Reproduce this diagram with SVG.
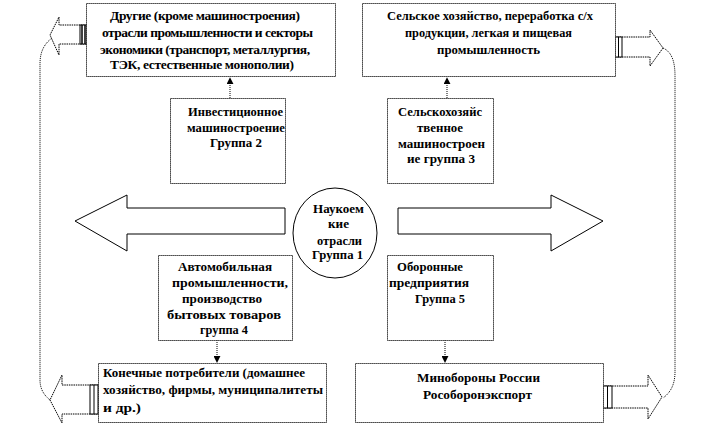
<svg xmlns="http://www.w3.org/2000/svg" width="714" height="426" viewBox="0 0 714 426">
<defs>
<style>
.box{fill:#fff;stroke:#000;stroke-width:1;stroke-dasharray:1.2 0.8}
.big{fill:#fff;stroke:#000;stroke-width:1}
.sm{fill:#fff;stroke:#000;stroke-width:1;stroke-dasharray:1.5 0.8}
.stripe{fill:#fff;stroke:#000;stroke-width:1}
.dot{fill:none;stroke:#000;stroke-width:1;stroke-dasharray:1 1}
text{font-family:"Liberation Serif","Times New Roman",serif;font-weight:bold;font-size:13.5px;fill:#000}
.c{text-anchor:middle}
</style>
<marker id="ah" viewBox="0 0 8 8" refX="7" refY="4" markerWidth="7" markerHeight="7" orient="auto" markerUnits="userSpaceOnUse">
<path d="M0,0 L8,4 L0,8 Z" fill="#000"/>
</marker>
</defs>

<g id="connectors">
<line class="dot" x1="230" y1="98" x2="230" y2="78" marker-end="url(#ah)"/>
<line class="dot" x1="447" y1="98" x2="447" y2="78" marker-end="url(#ah)"/>
<line class="dot" x1="217" y1="340" x2="217" y2="362" marker-end="url(#ah)"/>
<line class="dot" x1="445" y1="340" x2="445" y2="362" marker-end="url(#ah)"/>
<path class="dot" d="M52,38 C44,44 40,52 40,64 L40,380 C40,390 45,396 50,400"/>
<path class="dot" d="M663,48 C672,52 675,62 675,76 L675,372 C675,385 670,393 663,398"/>
</g>

<g id="arrow-left">
<polygon class="big" points="285,208 127,208 127,195 75,221 127,251 127,234 285,234"/>
</g>
<g id="arrow-right">
<polygon class="big" points="398,208 551,208 551,195 603,221 551,251 551,234 398,234"/>
</g>

<g id="out-top-left">
<polygon class="sm" points="87,25 59,25 59,17 50,35 59,55 59,44 87,44"/>
<rect class="stripe" x="80" y="25" width="7" height="19"/>
<line x1="82" y1="25" x2="82" y2="44" stroke="#000" stroke-width="1.5"/>
<line x1="85" y1="25" x2="85" y2="44" stroke="#000" stroke-width="1.5"/>
</g>
<g id="out-top-right">
<polygon class="sm" points="615,37 650,37 650,30 663,48 650,66 650,57 615,57"/>
<rect class="stripe" x="615" y="37" width="7" height="20"/>
<line x1="618.5" y1="37" x2="618.5" y2="57" stroke="#000" stroke-width="1"/>
</g>
<g id="out-bottom-left">
<polygon class="sm" points="98,385 62,385 62,375 50,400 62,423 62,414 98,414"/>
<rect class="stripe" x="90" y="385" width="8" height="29"/>
<line x1="94" y1="385" x2="94" y2="414" stroke="#000" stroke-width="1"/>
</g>
<g id="out-bottom-right">
<polygon class="sm" points="603,386 648,386 648,375 662,397 648,419 648,408 603,408"/>
<rect class="stripe" x="603" y="386" width="9" height="22"/>
<line x1="607.5" y1="386" x2="607.5" y2="408" stroke="#000" stroke-width="1"/>
</g>

<g id="box-other">
<rect class="box" x="86.5" y="3.5" width="249" height="73"/>
<text x="110" y="20" textLength="190" lengthAdjust="spacing">Другие (кроме машиностроения)</text>
<text x="102" y="37" textLength="211" lengthAdjust="spacing">отрасли промышленности и секторы</text>
<text x="100" y="54" textLength="210" lengthAdjust="spacing">экономики (транспорт, металлургия,</text>
<text x="110" y="69" textLength="184" lengthAdjust="spacing">ТЭК, естественные монополии)</text>
</g>

<g id="box-agri">
<rect class="box" x="362.5" y="3.5" width="253" height="73"/>
<text x="387" y="20" textLength="206" lengthAdjust="spacingAndGlyphs">Сельское хозяйство, переработка с/х</text>
<text x="405" y="37" textLength="167" lengthAdjust="spacingAndGlyphs">продукции, легкая и пищевая</text>
<text x="437" y="54" textLength="103" lengthAdjust="spacingAndGlyphs">промышленность</text>
</g>

<g id="group2">
<rect class="box" x="170.5" y="98.5" width="115" height="85"/>
<text x="188" y="116" textLength="95" lengthAdjust="spacingAndGlyphs">Инвестиционное</text>
<text x="187" y="132" textLength="98" lengthAdjust="spacingAndGlyphs">машиностроение</text>
<text x="210" y="147" textLength="52" lengthAdjust="spacingAndGlyphs">Группа 2</text>
</g>

<g id="group3">
<rect class="box" x="387.5" y="98.5" width="106" height="85"/>
<text x="398" y="116" textLength="84" lengthAdjust="spacingAndGlyphs">Сельскохозяйс</text>
<text x="417" y="132" textLength="46" lengthAdjust="spacingAndGlyphs">твенное</text>
<text x="398" y="148" textLength="87" lengthAdjust="spacingAndGlyphs">машиностроен</text>
<text x="407" y="163" textLength="68" lengthAdjust="spacingAndGlyphs">ие группа 3</text>
</g>

<g id="group1">
<ellipse cx="335" cy="233" rx="42" ry="45" fill="#fff" stroke="#000" stroke-width="1"/>
<text x="313" y="213" textLength="51" lengthAdjust="spacingAndGlyphs">Наукоем</text>
<text x="328" y="228" textLength="21" lengthAdjust="spacingAndGlyphs">кие</text>
<text x="317" y="245" textLength="45" lengthAdjust="spacingAndGlyphs">отрасли</text>
<text x="312" y="259" textLength="51" lengthAdjust="spacingAndGlyphs">Группа 1</text>
</g>

<g id="group4">
<rect class="box" x="158.5" y="255.5" width="134" height="85"/>
<text x="178" y="271" textLength="94" lengthAdjust="spacingAndGlyphs">Автомобильная</text>
<text x="172" y="287" textLength="116" lengthAdjust="spacingAndGlyphs">промышленности,</text>
<text x="182" y="303" textLength="80" lengthAdjust="spacingAndGlyphs">производство</text>
<text x="167" y="319" textLength="114" lengthAdjust="spacingAndGlyphs">бытовых товаров</text>
<text x="200" y="334" textLength="48" lengthAdjust="spacingAndGlyphs">группа 4</text>
</g>

<g id="group5">
<rect class="box" x="387.5" y="255.5" width="106" height="85"/>
<text x="397" y="271" textLength="66" lengthAdjust="spacingAndGlyphs">Оборонные</text>
<text x="389" y="287" textLength="80" lengthAdjust="spacingAndGlyphs">предприятия</text>
<text x="415" y="303" textLength="50" lengthAdjust="spacingAndGlyphs">Группа 5</text>
</g>

<g id="box-consumers">
<rect class="box" x="98.5" y="363.5" width="228" height="59"/>
<text x="103" y="377" textLength="202" lengthAdjust="spacingAndGlyphs">Конечные потребители (домашнее</text>
<text x="103" y="394" textLength="220" lengthAdjust="spacingAndGlyphs">хозяйство,  фирмы, муниципалитеты</text>
<text x="103" y="412" textLength="38" lengthAdjust="spacingAndGlyphs">и др.)</text>
</g>

<g id="box-mod">
<rect class="box" x="355.5" y="363.5" width="248" height="59"/>
<text x="417" y="382" textLength="123" lengthAdjust="spacingAndGlyphs">Минобороны России</text>
<text x="423" y="399" textLength="109" lengthAdjust="spacingAndGlyphs">Рособоронэкспорт</text>
</g>
</svg>
